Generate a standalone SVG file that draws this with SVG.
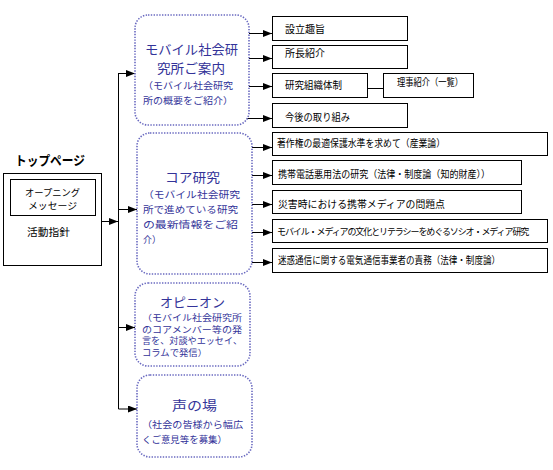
<svg xmlns="http://www.w3.org/2000/svg" width="553" height="470" viewBox="0 0 553 470">
<defs>
<marker id="ah" markerWidth="9" markerHeight="7" refX="9" refY="3.5" orient="auto" markerUnits="userSpaceOnUse">
<path d="M0,0 L9,3.5 L0,7 Z" fill="#000"/>
</marker>
</defs>
<style>
text{font-family:"Noto Sans CJK JP","Noto Sans",sans-serif;}
.bx{fill:#fff;stroke:#000;stroke-width:1;}
.rb{fill:#fff;stroke:#6a6ac0;stroke-width:1.6;stroke-dasharray:1.4 1.4;}
.t{font-size:10px;fill:#000;}
.bt{font-size:13px;fill:#333399;}
.bs{font-size:9.5px;fill:#333399;}
.bq{font-size:8.8px;fill:#333399;}
.ln{stroke:#000;stroke-width:1;fill:none;}
.ar{stroke:#000;stroke-width:1;fill:none;marker-end:url(#ah);}
</style>
<rect width="553" height="470" fill="#fff"/>

<g id="connectors">
<path class="ln" d="M118.5,73 V409"/>
<path class="ar" d="M101,221.5 H118"/>
<path class="ar" d="M118.5,73.5 H135"/>
<path class="ar" d="M118.5,209.5 H137"/>
<path class="ar" d="M118.5,327.5 H135"/>
<path class="ar" d="M118.5,409 H137"/>
<path class="ar" d="M249,33.5 H272"/>
<path class="ar" d="M249,58.5 H272"/>
<path class="ar" d="M249,86.5 H272"/>
<path class="ar" d="M246,118.5 H272"/>
<path class="ln" d="M367,88.5 H383"/>
<path class="ar" d="M251,147.5 H272"/>
<path class="ar" d="M252,175.5 H272"/>
<path class="ar" d="M252,204.5 H272"/>
<path class="ar" d="M252,232.5 H272"/>
<path class="ar" d="M251,262.5 H272"/>
</g>

<g id="top">
<text x="15" y="165" font-size="13" font-weight="bold" textLength="70" lengthAdjust="spacingAndGlyphs">トップページ</text>
<rect class="bx" x="3.5" y="173.5" width="98" height="92"/>
<rect class="bx" x="10.5" y="179.5" width="85" height="36"/>
<text x="25" y="196" font-size="9.5" textLength="55" lengthAdjust="spacingAndGlyphs">オープニング</text>
<text x="28" y="208.5" font-size="9.5" textLength="49" lengthAdjust="spacingAndGlyphs">メッセージ</text>
<text class="t" x="27" y="236" textLength="43" lengthAdjust="spacingAndGlyphs">活動指針</text>
</g>

<g id="mobile">
<rect class="rb" x="135" y="15" width="114" height="110" rx="13"/>
<text class="bt" x="145" y="54" textLength="93" lengthAdjust="spacingAndGlyphs">モバイル社会研</text>
<text class="bt" x="157" y="73" textLength="68" lengthAdjust="spacingAndGlyphs">究所ご案内</text>
<text class="bs" x="143" y="89" textLength="90" lengthAdjust="spacingAndGlyphs">（モバイル社会研究</text>
<text class="bs" x="143" y="104" textLength="90" lengthAdjust="spacingAndGlyphs">所の概要をご紹介）</text>
</g>

<g id="core">
<rect class="rb" x="137" y="133" width="115" height="141" rx="13"/>
<text class="bt" x="165" y="182" textLength="55" lengthAdjust="spacingAndGlyphs">コア研究</text>
<text class="bs" x="143" y="198" textLength="97" lengthAdjust="spacingAndGlyphs">（モバイル社会研究</text>
<text class="bs" x="143" y="213" textLength="95" lengthAdjust="spacingAndGlyphs">所で進めている研究</text>
<text class="bs" x="143" y="228" textLength="95" lengthAdjust="spacingAndGlyphs">の最新情報をご紹</text>
<text class="bs" x="143" y="243" textLength="18" lengthAdjust="spacingAndGlyphs">介）</text>
</g>

<g id="opinion">
<rect class="rb" x="135" y="283" width="115" height="83" rx="13"/>
<text class="bt" x="160" y="307" textLength="65" lengthAdjust="spacingAndGlyphs">オピニオン</text>
<text class="bq" x="142" y="321" textLength="100" lengthAdjust="spacingAndGlyphs">（モバイル社会研究所</text>
<text class="bq" x="142" y="332.5" textLength="100" lengthAdjust="spacingAndGlyphs">のコアメンバー等の発</text>
<text class="bq" x="142" y="344" textLength="100" lengthAdjust="spacingAndGlyphs">言を、対談やエッセイ、</text>
<text class="bq" x="142" y="355.5" textLength="65" lengthAdjust="spacingAndGlyphs">コラムで発信）</text>
</g>

<g id="voice">
<rect class="rb" x="137" y="375" width="115" height="82" rx="13"/>
<text class="bt" x="172" y="410" font-size="14" textLength="45" lengthAdjust="spacingAndGlyphs">声の場</text>
<text class="bs" x="142" y="428" textLength="101" lengthAdjust="spacingAndGlyphs">（社会の皆様から幅広</text>
<text class="bs" x="142" y="443" textLength="85" lengthAdjust="spacingAndGlyphs">くご意見等を募集）</text>
</g>

<g id="n-setsuritsu">
<rect class="bx" x="272.5" y="16.5" width="135" height="24"/>
<text class="t" x="285" y="33" textLength="40" lengthAdjust="spacingAndGlyphs">設立趣旨</text>
</g>
<g id="n-shocho">
<rect class="bx" x="272.5" y="45.5" width="135" height="23"/>
<text class="t" x="285" y="57" textLength="40" lengthAdjust="spacingAndGlyphs">所長紹介</text>
</g>
<g id="n-soshiki">
<rect class="bx" x="272.5" y="73.5" width="95" height="24"/>
<text class="t" x="285" y="89" textLength="57" lengthAdjust="spacingAndGlyphs">研究組織体制</text>
</g>
<g id="n-riji">
<rect class="bx" x="383.5" y="73.5" width="90" height="24"/>
<text class="t" x="397" y="86" textLength="66" lengthAdjust="spacingAndGlyphs">理事紹介（一覧）</text>
</g>
<g id="n-kongo">
<rect class="bx" x="272.5" y="103.5" width="135" height="24"/>
<text class="t" x="285" y="121" textLength="65" lengthAdjust="spacingAndGlyphs">今後の取り組み</text>
</g>

<g id="n-c1">
<rect class="bx" x="272.5" y="132.5" width="275" height="23"/>
<text class="t" x="277" y="147" textLength="168" lengthAdjust="spacingAndGlyphs">著作権の最適保護水準を求めて（産業論）</text>
</g>
<g id="n-c2">
<rect class="bx" x="272.5" y="160.5" width="249" height="24"/>
<text class="t" x="278" y="178" textLength="212" lengthAdjust="spacingAndGlyphs">携帯電話悪用法の研究（法律・制度論（知的財産））</text>
</g>
<g id="n-c3">
<rect class="bx" x="272.5" y="190.5" width="249" height="23"/>
<text class="t" x="278" y="208" textLength="167" lengthAdjust="spacingAndGlyphs">災害時における携帯メディアの問題点</text>
</g>
<g id="n-c4">
<rect class="bx" x="272.5" y="219.5" width="275" height="23"/>
<text x="277" y="235" font-size="9" letter-spacing="-1.1">モバイル・メディアの文化とリテラシーをめぐるソシオ・メディア研究</text>
</g>
<g id="n-c5">
<rect class="bx" x="272.5" y="248.5" width="275" height="24"/>
<text class="t" x="278" y="264" textLength="222" lengthAdjust="spacingAndGlyphs">迷惑通信に関する電気通信事業者の責務（法律・制度論）</text>
</g>
</svg>
